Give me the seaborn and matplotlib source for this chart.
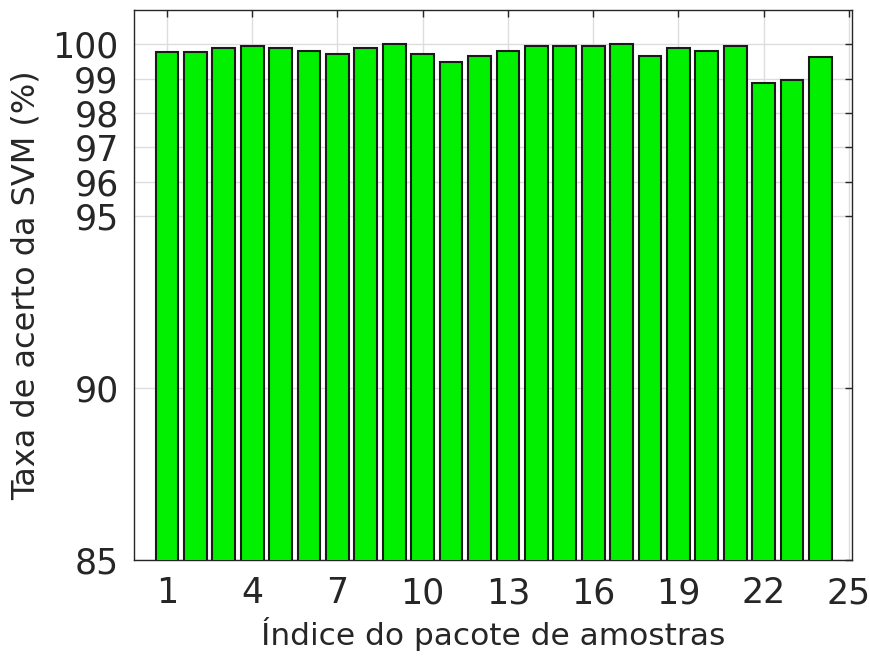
import numpy as np
import pandas as pd
import seaborn as sns
import matplotlib.pyplot as plt

# Taxa de acerto por pacote
indices = list(range(1, 25))
acerto = [99.77, 99.77, 99.90, 99.96, 99.90, 99.81, 99.73, 99.90, 100.0, 99.73,
          99.48, 99.67, 99.81, 99.95, 99.95, 99.95, 100.0, 99.67, 99.90, 99.81,
          99.95, 98.87, 98.97, 99.62]
yticks = [85, 90, 95, 96, 97, 98, 99, 100]
xticks = [1, 4, 7, 10, 13, 16, 19, 22, 25]

df = pd.DataFrame({'pacote': indices, 'acerto': acerto})

sns.set_style("white")
plt.rcParams['font.family'] = ['DejaVu Sans']

fig = plt.figure(figsize=(8.7, 6.6), dpi=100)
ax = fig.add_axes([0.154, 0.152, 0.825, 0.833])

sns.barplot(data=df, x='pacote', y='acerto', native_scale=True, width=0.8,
            color='#00f000', saturation=1, edgecolor='#1a1a1a', linewidth=1.5,
            ax=ax, zorder=3)

ax.set_xlim(-0.16, 25.1)
ax.set_ylim(85, 101)
ax.set_xticks(xticks)
ax.set_xticklabels([str(t) for t in xticks])
ax.set_yticks(yticks)
ax.set_yticklabels([str(t) for t in yticks])

ax.grid(True, color='#dddddd', linewidth=1, zorder=0)
ax.set_axisbelow(True)
ax.tick_params(direction='in', length=5, width=1, top=True, right=True,
               labelsize=25, colors='#262626', labelcolor='#262626')
ax.tick_params(axis='y', pad=11)
ax.tick_params(axis='x', pad=12)
for s in ax.spines.values():
    s.set_color('#262626')
    s.set_linewidth(1)

ax.set_xlabel('Índice do pacote de amostras', fontsize=22.5, color='#262626', labelpad=5)
ax.set_ylabel('Taxa de acerto da SVM (%)', fontsize=23, color='#262626', labelpad=8)

fig.savefig('out.png', dpi=100)
